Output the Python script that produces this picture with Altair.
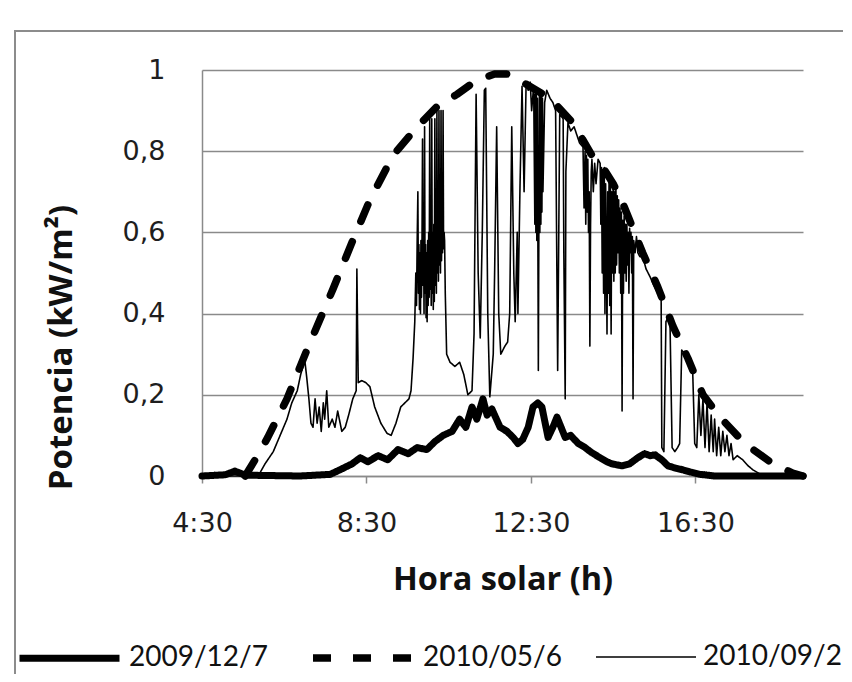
import altair as alt
import pandas as pd

series_names = ["2009/12/7", "2010/05/6", "2010/09/2"]

# solar time in minutes after midnight, power in kW/m2
t_dec = [270, 304, 318, 333, 413, 457, 471, 489, 501, 512, 527, 541, 556, 571, 584, 598,
         610, 622, 635, 646, 655, 664, 671, 680, 686, 693, 705, 715, 724, 731, 738, 746,
         753, 760, 766, 775, 782, 788, 794, 800, 808, 819, 829, 839, 851, 861, 868, 883,
         894, 906, 916, 924, 931, 941, 950, 960, 972, 982, 997, 1018, 1147]
v_dec = [0.0, 0.003, 0.012, 0.002, 0.0, 0.004, 0.015, 0.03, 0.045, 0.035, 0.05, 0.04, 0.065, 0.055, 0.07, 0.065,
         0.085, 0.10, 0.11, 0.14, 0.12, 0.17, 0.14, 0.19, 0.15, 0.165, 0.12, 0.11, 0.095, 0.08, 0.09, 0.12,
         0.17, 0.18, 0.17, 0.095, 0.12, 0.145, 0.12, 0.095, 0.10, 0.08, 0.07, 0.057, 0.045, 0.035, 0.03, 0.025,
         0.03, 0.045, 0.055, 0.05, 0.052, 0.04, 0.025, 0.02, 0.015, 0.01, 0.004, 0.0, 0.0]

t_may = [333, 350, 366, 394, 423, 461, 490, 515, 549, 584, 613, 642, 671, 697, 719, 738,
         778, 811, 825, 839, 855, 870, 882, 894, 913, 934, 957, 979, 1001, 1026, 1062, 1103, 1132, 1147]
v_may = [0.0, 0.047, 0.095, 0.19, 0.31, 0.46, 0.58, 0.68, 0.79, 0.86, 0.91, 0.94, 0.975, 0.99, 0.99, 0.97,
         0.93, 0.87, 0.83, 0.79, 0.76, 0.72, 0.68, 0.63, 0.55, 0.47, 0.37, 0.29, 0.20, 0.145, 0.08, 0.03, 0.007, 0.0]

# 2010/09/2, read in consecutive pieces
t_sep_a = [270, 352, 362, 374, 384, 394, 401, 409, 414, 420, 423, 426, 429, 432, 435,
           438, 441, 444, 447, 449, 452, 455, 460, 464, 468, 474, 479, 484, 490, 495,
           496, 498, 503, 509, 515, 522, 531, 540, 546, 553, 560, 566, 572, 575, 578]
v_sep_a = [0.0, 0.0, 0.03, 0.06, 0.10, 0.14, 0.18, 0.21, 0.25, 0.285, 0.24, 0.19, 0.13, 0.12, 0.19,
           0.13, 0.17, 0.11, 0.18, 0.14, 0.21, 0.12, 0.14, 0.12, 0.16, 0.11, 0.12, 0.15, 0.19, 0.21,
           0.51, 0.23, 0.235, 0.23, 0.22, 0.17, 0.13, 0.105, 0.10, 0.13, 0.17, 0.18, 0.19, 0.21, 0.29]

t_sep_b = [580.5, 582, 583, 584, 585, 585.8, 586.5, 587.3, 588, 588.8, 589.5, 590.3, 591, 591.8, 592.5,
           593.3, 594, 594.8, 595.5, 596.3, 597, 597.8, 598.5, 599.3, 600, 600.8, 601.5, 602.3, 603, 603.8,
           604.5, 605.3, 606, 606.8, 607.5, 608.3, 609, 609.8, 610.5, 611.3, 612, 612.8, 613.5, 614.3, 615,
           615.8, 616.5, 617.3, 618, 618.8, 619.5, 620.3, 621, 621.8, 622.5, 623.3, 624, 625, 627]
v_sep_b = [0.38, 0.50, 0.42, 0.58, 0.70, 0.45, 0.57, 0.41, 0.55, 0.40, 0.58, 0.44, 0.56, 0.83, 0.47,
           0.60, 0.40, 0.86, 0.45, 0.57, 0.39, 0.55, 0.38, 0.58, 0.42, 0.60, 0.44, 0.88, 0.46, 0.58,
           0.42, 0.88, 0.45, 0.60, 0.41, 0.62, 0.43, 0.88, 0.47, 0.60, 0.45, 0.90, 0.50, 0.62, 0.48,
           0.90, 0.52, 0.63, 0.50, 0.90, 0.53, 0.62, 0.55, 0.90, 0.56, 0.60, 0.58, 0.45, 0.30]

t_sep_c = [632, 639, 646, 652, 658, 664, 667, 670, 673, 676, 679, 682, 684, 687, 690,
           695, 697, 700, 703, 706, 712, 716, 719, 722, 725, 727, 730, 731, 734, 737,
           740, 743, 746, 749, 751, 754]
v_sep_c = [0.28, 0.27, 0.28, 0.25, 0.20, 0.21, 0.35, 0.94, 0.50, 0.34, 0.60, 0.95, 0.955, 0.40, 0.195,
           0.30, 0.50, 0.86, 0.40, 0.30, 0.32, 0.33, 0.40, 0.86, 0.50, 0.38, 0.60, 0.40, 0.71, 0.96,
           0.70, 0.97, 0.95, 0.97, 0.90, 0.96]

t_sep_d = [755.7, 756.4, 757.2, 757.9, 758.6, 759.4, 760.1, 760.8, 761.6, 762.3,
           763, 763.8, 764.5, 765.3, 766, 766.8, 767.5, 770, 773]
v_sep_d = [0.62, 0.94, 0.60, 0.95, 0.58, 0.93, 0.60, 0.26, 0.62, 0.95,
           0.60, 0.94, 0.62, 0.95, 0.65, 0.93, 0.70, 0.92, 0.95]

t_sep_e = [778, 782, 786, 789, 792, 797, 798, 800, 801, 804, 808, 813, 817, 821, 826, 827.5,
           829, 830, 831, 832, 833, 834, 835, 836, 837, 838, 839, 841, 843, 845, 848, 851]
v_sep_e = [0.93, 0.92, 0.90, 0.26, 0.89, 0.88, 0.55, 0.19, 0.75, 0.87, 0.85, 0.86, 0.84, 0.82, 0.81, 0.66,
           0.80, 0.62, 0.79, 0.65, 0.78, 0.60, 0.70, 0.32, 0.62, 0.75, 0.78, 0.70, 0.77, 0.72, 0.78, 0.77]

t_sep_f = [852, 853, 854, 855, 856, 857, 858, 859, 860, 861, 862, 863, 864, 865, 866, 867, 868,
           869, 870, 871, 872, 873, 874, 875, 876, 877, 878, 879, 880, 881, 882, 883, 884, 885,
           886, 887, 888, 889, 890, 891, 892, 893, 894, 895, 896, 897, 898, 899, 900, 902, 904, 906]
v_sep_f = [0.62, 0.76, 0.50, 0.75, 0.45, 0.76, 0.40, 0.72, 0.55, 0.35, 0.70, 0.45, 0.73, 0.42, 0.72, 0.35, 0.70,
           0.50, 0.72, 0.48, 0.70, 0.50, 0.71, 0.52, 0.69, 0.55, 0.68, 0.50, 0.66, 0.45, 0.65, 0.16, 0.63, 0.45,
           0.64, 0.50, 0.62, 0.48, 0.62, 0.52, 0.60, 0.45, 0.61, 0.55, 0.60, 0.50, 0.59, 0.19, 0.58, 0.55, 0.59, 0.55]

t_sep_g = [909, 913, 918, 924, 929, 935, 940, 941, 944, 947, 950, 953, 956, 960, 964, 967,
           970, 975, 979, 983, 986, 989, 992, 995, 998, 1001, 1004, 1007, 1010, 1013, 1016, 1018,
           1021, 1024, 1027, 1030, 1033, 1036, 1039, 1042, 1045, 1051, 1059, 1067, 1074, 1084, 1099, 1147]
v_sep_g = [0.54, 0.54, 0.51, 0.49, 0.47, 0.45, 0.44, 0.07, 0.06, 0.38, 0.39, 0.37, 0.07, 0.06, 0.07, 0.08,
           0.31, 0.30, 0.28, 0.27, 0.26, 0.08, 0.07, 0.20, 0.10, 0.19, 0.07, 0.18, 0.06, 0.15, 0.06, 0.14,
           0.05, 0.12, 0.05, 0.11, 0.06, 0.10, 0.05, 0.08, 0.04, 0.05, 0.04, 0.025, 0.015, 0.005, 0.0, 0.0]

t_sep = t_sep_a + t_sep_b + t_sep_c + t_sep_d + t_sep_e + t_sep_f + t_sep_g
v_sep = v_sep_a + v_sep_b + v_sep_c + v_sep_d + v_sep_e + v_sep_f + v_sep_g

x_ticks = [270, 510, 750, 990]
y_ticks = [0, 0.2, 0.4, 0.6, 0.8, 1]

rows = []
for name, ts, vs in zip(series_names, [t_dec, t_may, t_sep], [v_dec, v_may, v_sep]):
    assert len(ts) == len(vs), name
    for i, (t, v) in enumerate(zip(ts, vs)):
        rows.append({"series": name, "t": t, "v": v, "i": i})
df = pd.DataFrame(rows)

GRAY = "#8a8a8a"
TEXT = "#1e1e1e"

x_enc = alt.X(
    "t:Q",
    scale=alt.Scale(domain=[270, 1147], nice=False, zero=False),
    axis=alt.Axis(
        values=x_ticks,
        labelExpr="floor(datum.value/60) + ':' + (datum.value % 60 < 10 ? '0' : '') + (datum.value % 60)",
        title="Hora solar (h)",
        grid=False,
        domainColor=GRAY, domainWidth=1.5,
        tickColor=GRAY, tickWidth=1.5, tickSize=7,
        labelFont="DejaVu Sans", labelFontSize=27, labelColor=TEXT,
        labelPadding=27, labelFlush=False, labelOverlap=False,
        titleFont="Open Sans", titleFontWeight="bold", titleFontSize=32.5, titleColor="#111111",
        titleBaseline="top", titleY=87,
    ),
)
y_enc = alt.Y(
    "v:Q",
    scale=alt.Scale(domain=[0, 1], nice=False),
    axis=alt.Axis(
        values=y_ticks,
        labelExpr="datum.value == 0 ? '0' : datum.value == 1 ? '1' : replace(format(datum.value, '.1f'), '.', ',')",
        title="Potencia (kW/m²)",
        grid=True, gridColor=GRAY, gridWidth=1.5,
        domainColor=GRAY, domainWidth=1.5,
        tickSize=0,
        labelFont="DejaVu Sans", labelFontSize=27, labelColor=TEXT,
        labelPadding=37, labelBaseline="middle",
        titleFont="Open Sans", titleFontWeight="bold", titleFontSize=33, titleColor="#111111",
        titleAngle=270, titleAlign="center", titleBaseline="middle",
        titleX=-141, titleY=277,
    ),
)

legend = alt.Legend(
    orient="none", legendX=-186, legendY=534, direction="horizontal",
    symbolType="stroke", symbolSize=10000, symbolStrokeColor="black",
    labelFont="Lato", labelFontSize=28, labelColor="#111111", labelOffset=6,
    columnPadding=30, labelLimit=300,
)
dash_enc = alt.StrokeDash(
    "series:N", title=None,
    scale=alt.Scale(domain=series_names, range=[[1, 0], [18, 22], [1, 0]]),
    legend=legend,
)
width_enc = alt.StrokeWidth(
    "series:N", title=None,
    scale=alt.Scale(type="ordinal", domain=series_names, range=[7, 7.5, 1.6]),
    legend=legend,
)

def series_layer(name):
    return alt.Chart(df).transform_filter(
        alt.datum.series == name
    ).mark_line(color="black", strokeCap="round", strokeJoin="round").encode(
        x=x_enc, y=y_enc, strokeDash=dash_enc, strokeWidth=width_enc, order="i:Q"
    )

border = alt.Chart(pd.DataFrame({"k": [0]})).mark_rect(
    fillOpacity=0, stroke="#8c8c8c", strokeWidth=2, clip=False
).encode(
    x=alt.value(-187), x2=alt.value(900), y=alt.value(-39), y2=alt.value(900)
)

chart = alt.layer(
    border,
    series_layer("2010/05/6"),
    series_layer("2010/09/2"),
    series_layer("2009/12/7"),
).properties(
    width=601, height=406,
    autosize=alt.AutoSizeParams(type="none"),
    padding={"left": 194, "top": 62, "right": 40, "bottom": 198},
    background="white",
).configure_view(stroke="transparent")

chart.save("out.html", embed_options={"renderer": "svg", "actions": False})
